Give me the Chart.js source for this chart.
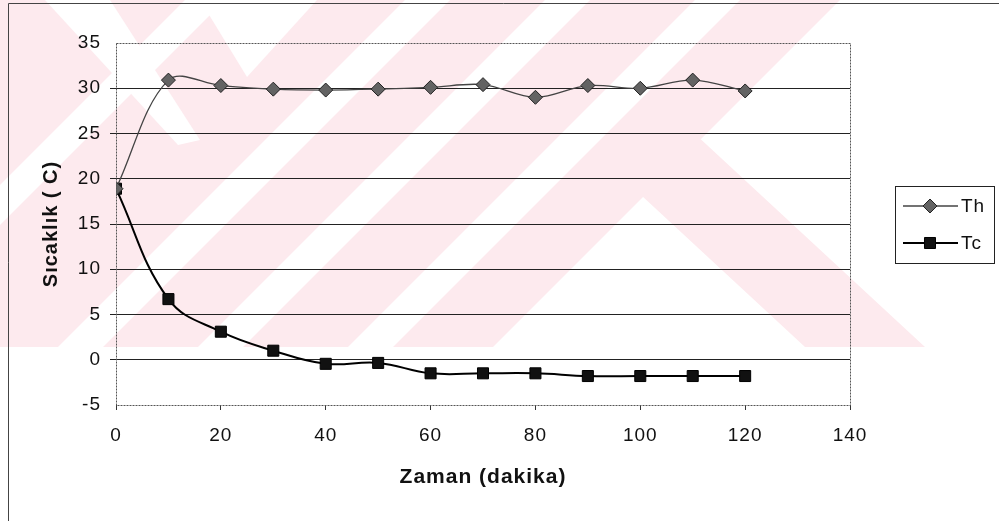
<!DOCTYPE html>
<html>
<head>
<meta charset="utf-8">
<title>Sıcaklık - Zaman</title>
<script src="https://cdn.jsdelivr.net/npm/chart.js@4.4.1/dist/chart.umd.min.js"></script>
<style>
    html, body { margin: 0; padding: 0; background: #fff; }
    #wrap { width: 999px; height: 521px; position: relative; }
</style>
</head>
<body>
<div id="wrap"><canvas id="chart" width="999" height="521"></canvas></div>
<script>
// --- data ---
const minutes = [0, 10, 20, 30, 40, 50, 60, 70, 80, 90, 100, 110, 120];
const thValues = [18.9, 30.9, 30.3, 29.9, 29.8, 29.9, 30.1, 30.4, 29.0, 30.3, 30.0, 30.9, 29.7];
const tcValues = [18.9, 6.7, 3.1, 1.0, -0.45, -0.35, -1.5, -1.5, -1.5, -1.8, -1.8, -1.8, -1.8];
const seriesNames = ['Th', 'Tc'];
const yTicks = [-5, 0, 5, 10, 15, 20, 25, 30, 35];
const xTicks = [0, 20, 40, 60, 80, 100, 120, 140];

const FONT = '"Liberation Sans", Arial, sans-serif';
const PINK = '#fdeaee';

// background watermark of the scanned page (decoration only)
const watermarkPlugin = {
    id: 'watermark',
    beforeDraw(chart) {
        const ctx = chart.ctx;
        // the scanned text is a little wider than plain Arial
        ctx.letterSpacing = '1px';
        const H = 347;
        ctx.save();
        ctx.beginPath();
        ctx.rect(0, 0, 999, H);
        ctx.clip();
        // pink base
        ctx.fillStyle = PINK;
        ctx.beginPath();
        ctx.moveTo(0, 0);
        ctx.lineTo(840, 0);
        ctx.lineTo(840 - H, H);
        ctx.lineTo(0, H);
        ctx.closePath();
        ctx.fill();
        // right "\" band
        ctx.beginPath();
        ctx.moveTo(560, 120);
        ctx.lineTo(680, 120);
        ctx.lineTo(925, H);
        ctx.lineTo(805, H);
        ctx.closePath();
        ctx.fill();
        // white "/" stripes
        ctx.fillStyle = '#fff';
        [[185, 225], [405, 450], [545, 590], [695, 740]].forEach(([a, b]) => {
            ctx.beginPath();
            ctx.moveTo(a, 0);
            ctx.lineTo(b, 0);
            ctx.lineTo(b - H, H);
            ctx.lineTo(a - H, H);
            ctx.closePath();
            ctx.fill();
        });
        // white "\" stripe top left and V notch at the top
        ctx.beginPath();
        ctx.moveTo(45, 0); ctx.lineTo(110, 0); ctx.lineTo(200, 140); ctx.lineTo(178, 145);
        ctx.closePath(); ctx.fill();
        ctx.beginPath();
        ctx.moveTo(200, 0); ctx.lineTo(317, 0); ctx.lineTo(247, 77);
        ctx.closePath(); ctx.fill();
        // "^" notch at the bottom
        ctx.beginPath();
        ctx.moveTo(600, 250); ctx.lineTo(700, H); ctx.lineTo(503, H);
        ctx.closePath(); ctx.fill();
        ctx.restore();

        // page frame lines of the scan
        ctx.save();
        ctx.strokeStyle = '#444';
        ctx.lineWidth = 1;
        ctx.beginPath();
        ctx.moveTo(8.5, 3.5); ctx.lineTo(999, 3.5);
        ctx.moveTo(8.5, 3.5); ctx.lineTo(8.5, 521);
        ctx.stroke();
        ctx.restore();
    }
};

// dotted plot border and legend box
const framePlugin = {
    id: 'frame',
    afterDatasetsDraw(chart) {
        const { ctx, chartArea: a } = chart;
        ctx.save();
        ctx.strokeStyle = '#555';
        ctx.lineWidth = 1;
        ctx.setLineDash([2, 1]);
        ctx.strokeRect(Math.round(a.left) + 0.5, Math.round(a.top) + 0.5,
            Math.round(a.right - a.left), Math.round(a.bottom - a.top));
        ctx.restore();
    },
    afterDraw(chart) {
        const ctx = chart.ctx;
        const bx = 895.5, by = 186.5, bw = 99, bh = 77;
        ctx.save();
        ctx.strokeStyle = '#222';
        ctx.lineWidth = 1;
        ctx.strokeRect(bx, by, bw, bh);
        ctx.font = '19px ' + FONT;
        ctx.textBaseline = 'middle';
        chart.data.datasets.forEach((ds, i) => {
            const y = 206 + i * 37;
            ctx.strokeStyle = ds.borderColor;
            ctx.lineWidth = ds.borderWidth;
            ctx.beginPath();
            ctx.moveTo(903, y);
            ctx.lineTo(958, y);
            ctx.stroke();
            ctx.fillStyle = ds.pointBackgroundColor;
            ctx.strokeStyle = ds.pointBorderColor;
            ctx.lineWidth = ds.pointBorderWidth;
            ctx.beginPath();
            const r = ds.pointRadius;
            if (ds.pointStyle === 'rectRot') {
                ctx.moveTo(930, y - r); ctx.lineTo(930 + r, y); ctx.lineTo(930, y + r); ctx.lineTo(930 - r, y);
            } else {
                const s = r * Math.SQRT1_2;
                ctx.rect(930 - s, y - s, 2 * s, 2 * s);
            }
            ctx.closePath();
            ctx.fill();
            ctx.stroke();
            ctx.fillStyle = '#111';
            ctx.fillText(ds.label, 961, y + 1);
        });
        ctx.restore();
    }
};

const thPoints = minutes.map((m, i) => ({ x: m, y: thValues[i] }));
const tcPoints = minutes.map((m, i) => ({ x: m, y: tcValues[i] }));

new Chart(document.getElementById('chart'), {
    type: 'line',
    data: {
        datasets: [
            {
                label: seriesNames[0],
                data: thPoints,
                borderColor: '#444',
                borderWidth: 1.3,
                pointStyle: 'rectRot',
                pointRadius: 7,
                pointBackgroundColor: '#636363',
                pointBorderColor: '#222',
                pointBorderWidth: 1,
                tension: 0.35
            },
            {
                label: seriesNames[1],
                data: tcPoints,
                borderColor: '#000',
                borderWidth: 2,
                pointStyle: 'rect',
                pointRadius: 7.8,
                pointBackgroundColor: '#111',
                pointBorderColor: '#000',
                pointBorderWidth: 1,
                tension: 0.4
            }
        ]
    },
    options: {
        responsive: false,
        animation: false,
        layout: { padding: { left: 0, top: 43, right: 149, bottom: 0 } },
        plugins: {
            legend: { display: false },
            tooltip: { enabled: false }
        },
        scales: {
            x: {
                type: 'linear',
                min: 0,
                max: 140,
                afterFit: scale => { scale.height = 116; },
                afterBuildTicks: scale => { scale.ticks = xTicks.map(v => ({ value: v })); },
                grid: { drawOnChartArea: false, drawTicks: true, tickLength: 5, color: '#333' },
                border: { display: false },
                ticks: { color: '#111', padding: 14, font: { family: FONT, size: 19 }, maxRotation: 0 },
                title: {
                    display: true,
                    text: 'Zaman (dakika)',
                    color: '#111',
                    font: { family: FONT, size: 21, weight: 'bold' },
                    padding: { top: 0, bottom: 31 }
                }
            },
            y: {
                min: -5,
                max: 35,
                afterFit: scale => { scale.width = 116; },
                afterBuildTicks: scale => { scale.ticks = yTicks.map(v => ({ value: v })); },
                grid: {
                    drawTicks: true,
                    tickLength: 6,
                    color: ctx => (ctx.tick && (ctx.tick.value === 35 || ctx.tick.value === -5)) ? 'rgba(0,0,0,0)' : '#222'
                },
                border: { display: false },
                ticks: { color: '#111', padding: 9, font: { family: FONT, size: 19 } },
                title: {
                    display: true,
                    text: 'Sıcaklık ( C)',
                    color: '#111',
                    font: { family: FONT, size: 20, weight: 'bold' },
                    padding: { top: 39, bottom: 0 }
                }
            }
        }
    },
    plugins: [watermarkPlugin, framePlugin]
});
</script>
</body>
</html>
